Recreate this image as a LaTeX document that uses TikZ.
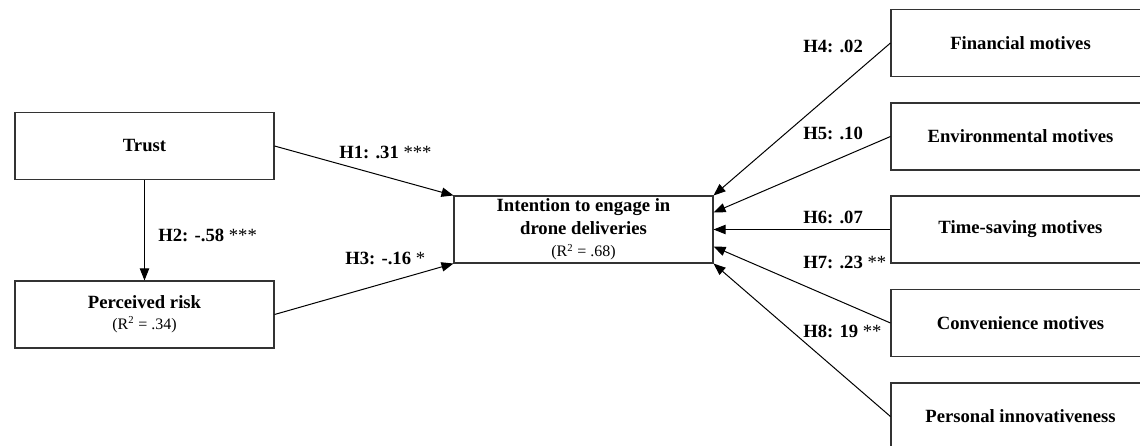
\documentclass[tikz,border=0pt]{standalone}
\usepackage{fontspec}
\setmainfont{Liberation Serif}
\usetikzlibrary{arrows.meta,positioning,calc}

\begin{document}
\begin{tikzpicture}[
        x=0.75pt, y=-0.75pt,
        every node/.style={align=center, font=\fontsize{14}{16.5}\selectfont\bfseries},
        box/.style={rectangle, draw=black!80, line width=0.8pt, minimum width=194.25pt, minimum height=50.25pt, inner sep=0pt},
        link/.style={->, line width=0.75pt, >={Triangle[length=9pt,width=7pt]}},
        hyp/.style={anchor=west, inner sep=0pt}
    ]
        \useasboundingbox (0,0) rectangle (1140,446);
        \clip (0,0) rectangle (1140,446);

        % Nodes
        \node[box] (trust) at (144.5,146) {Trust};
        \node[box] (risk) at (144.5,314.5) {Perceived risk\\[-1pt]{\fontsize{12}{14}\selectfont\mdseries (R\textsuperscript{2} = .34)}};
        \node[box] (intention) at (583.5,229.5) {Intention to engage in\\[0.5pt]drone deliveries\\[0.5pt]{\fontsize{12}{14}\selectfont\mdseries (R\textsuperscript{2} = .68)}};

        \node[box] (financial) at (1020.5,43) {Financial motives};
        \node[box] (environmental) at (1020.5,136.5) {Environmental motives};
        \node[box] (timesaving) at (1020.5,229.5) {Time-saving motives};
        \node[box] (convenience) at (1020.5,323) {Convenience motives};
        \node[box] (innovativeness) at (1020.5,416.5) {Personal innovativeness};

        % Connections
        \draw[link] (trust) -- (risk) node[hyp, pos=0.55, xshift=10pt] {H2: -.58 {\mdseries ***}};
        \draw[link] (trust.east) -- (intention.north west);
        \draw[link] (risk.east) -- (intention.south west);

        \draw[link] (financial.west) -- (intention.north east);
        \draw[link] (environmental.west) -- ($(intention.north east)!0.25!(intention.south east)$);
        \draw[link] (timesaving.west) -- (intention.east);
        \draw[link] (convenience.west) -- ($(intention.north east)!0.75!(intention.south east)$);
        \draw[link] (innovativeness.west) -- (intention.south east);

        % Labels
        \node[hyp] (h1) at (339,152) {H1: .31 {\mdseries ***}};
        \node[hyp] (h3) at (345,258) {H3: -.16 {\mdseries *}};
        \node[hyp] (h4) at (803,46) {H4: .02};
        \node[hyp] (h5) at (803,133) {H5: .10};
        \node[hyp] (h6) at (803,217) {H6: .07};
        \node[hyp] (h7) at (803,262) {H7: .23 {\mdseries **}};
        \node[hyp] (h8) at (803,331) {H8: 19 {\mdseries **}};

    \end{tikzpicture}
\end{document}
